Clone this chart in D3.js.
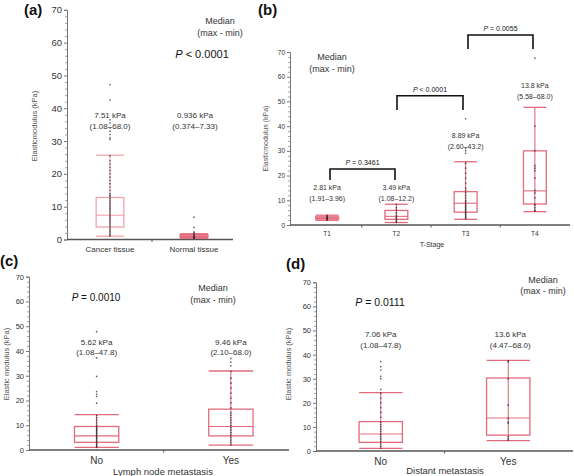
<!DOCTYPE html>
<html><head><meta charset="utf-8">
<script src="https://cdn.jsdelivr.net/npm/d3@7"></script>
<style>
html,body{margin:0;padding:0;background:#fff;}
svg{display:block;font-family:"Liberation Sans",Arial,sans-serif;}
</style></head>
<body>
<svg id="chart" width="574" height="476"></svg>
<script>
// ---------- DATA ----------
const yTicks = [0, 10, 20, 30, 40, 50, 60, 70];
const yMinorTicks = [2,4,6,8,12,14,16,18,22,24,26,28,32,34,36,38,42,44,46,48,52,54,56,58,62,64,66,68];

// (a) tissue
const catsA = ["Cancer tissue", "Normal tissue"];
// [whisker low, Q1, median, Q3, whisker high]
const boxA = [[1.0, 3.8, 7.4, 12.8, 25.7], [0.37, 0.55, 0.94, 1.5, 1.75]];
const ptsA = [
  [47.2, 42.5, 36.5, 35.5, 34, 33, 32, 31, 30.5, 25.5, 24, 23, 22, 21, 20, 19, 18, 17, 16, 15, 14, 13.5, 13, 12.5, 12, 11.5, 11, 10.5, 10, 9.5, 9, 8.5, 8, 7.5, 7, 6.5, 6, 5.5, 5, 4.5, 4, 3.5, 3, 2.5, 2, 1.5, 1.1],
  [6.8, 3.7, 2.3, 2.0, 1.6, 1.3, 1.0, 0.8, 0.6, 0.5, 0.4]
];
const labelsA = [["7.51 kPa", "(1.08\u201368.0)"], ["0.936 kPa", "(0.374\u20137.33)"]];
const pA = "< 0.0001";

// (b) T-stage
const catsB = ["T1", "T2", "T3", "T4"];
const boxB = [[1.91, 2.4, 2.8, 3.3, 3.96], [1.0, 2.3, 3.5, 5.9, 8.4], [2.3, 5.2, 8.8, 13.5, 25.6], [5.4, 8.5, 13.8, 30.0, 47.6]];
const ptsB = [
  [1.95, 2.3, 2.6, 2.8, 3.0, 3.3, 3.6, 3.9],
  [1.1, 1.5, 2.0, 2.5, 3.0, 3.5, 4.0, 5.0, 6.0, 7.0, 8.4],
  [43, 31, 30, 29, 25, 23, 21, 19, 17, 15, 14, 13, 12, 11, 10, 9.5, 9, 8.5, 8, 7.5, 7, 6.5, 6, 5.5, 5, 4.5, 4, 3.5, 3, 2.6],
  [67.5, 40, 30, 24, 23, 22, 19, 14, 13, 11, 8.5, 8, 7, 6, 5.6]
];
const labelsB = [["2.81 kPa", "(1.91\u20133.96)"], ["3.49 kPa", "(1.08\u201312.2)"], ["8.89 kPa", "(2.60\u201343.2)"], ["13.8 kPa", "(5.58\u201368.0)"]];
const pairsB = [["T1", "T2"], ["T2", "T3"], ["T3", "T4"]];
const pB = ["= 0.3461", "< 0.0001", "= 0.0055"];

// (c) lymph node metastasis
const catsC = ["No", "Yes"];
const boxC = [[1.1, 3.1, 5.7, 9.5, 14.3], [2.0, 5.7, 9.5, 16.5, 31.9]];
const ptsC = [
  [47.8, 37.2, 29.7, 23.6, 22.5, 21.6, 18.9, 14, 13, 12, 11, 10, 9.5, 9, 8.5, 8, 7.5, 7, 6.5, 6, 5.5, 5, 4.5, 4, 3.5, 3, 2.5, 2, 1.5, 1.1],
  [37, 35.5, 34, 31.8, 29, 27, 25, 23, 21, 19, 17, 15, 14, 13, 12, 11, 10, 9, 8, 7, 6, 5, 4, 3, 2.1]
];
const labelsC = [["5.62 kPa", "(1.08\u201347.8)"], ["9.46 kPa", "(2.10\u201368.0)"]];
const pC = "= 0.0010";

// (d) distant metastasis
const catsD = ["No", "Yes"];
const boxD = [[1.1, 3.6, 7.05, 12.2, 24.2], [4.3, 6.6, 13.7, 30.3, 37.6]];
const ptsD = [
  [37.1, 35, 33.6, 31, 30, 25.6, 24, 22, 20, 18, 16, 14, 12, 11, 10, 9, 8, 7, 6, 5, 4, 3, 2, 1.1],
  [37.5, 37, 30, 19, 13.5, 12, 11.5, 6, 5, 4.5]
];
const labelsD = [["7.06 kPa", "(1.08\u201347.8)"], ["13.6 kPa", "(4.47\u201368.0)"]];
const pD = "= 0.0111";

// ---------- DRAWING ----------
const svg = d3.select("#chart");
const TXT = "#333";

function panel(cfg) {
  const g = svg.append("g");
  const x = d3.scaleBand().domain(cfg.cats).range(cfg.xr);
  const y = d3.scaleLinear().domain([0, 70]).range(cfg.yr);
  const bw = x.bandwidth() * cfg.boxFrac;
  const cx = c => x(c) + x.bandwidth() / 2;

  // y axis
  const ya = g.append("g").attr("transform", `translate(${cfg.ax0},0)`)
    .call(d3.axisLeft(y).tickValues(yTicks).tickSize(3).tickPadding(2).tickFormat(d3.format("d")));
  ya.select(".domain").attr("stroke", "#777").attr("stroke-width", 1);
  ya.selectAll(".tick line").attr("stroke", "#777");
  ya.selectAll("text").attr("font-size", cfg.tickFs).attr("fill", TXT);
  const ym = g.append("g").attr("transform", `translate(${cfg.ax0},0)`)
    .call(d3.axisLeft(y).tickValues(yMinorTicks).tickSize(1.8).tickFormat(""));
  ym.select(".domain").remove();
  ym.selectAll(".tick line").attr("stroke", "#999");

  // x axis line + category labels
  g.append("line").attr("x1", cfg.ax0).attr("x2", cfg.ax1)
    .attr("y1", y(0)).attr("y2", y(0)).attr("stroke", "#555").attr("stroke-width", 1.4);
  const xa = g.append("g").attr("transform", `translate(0,${y(0)})`)
    .call(d3.axisBottom(x).tickSize(0).tickPadding(cfg.xPad));
  xa.select(".domain").remove();
  xa.selectAll("text").attr("font-size", cfg.xFs).attr("fill", TXT);
  cfg.cats.slice(1).forEach(c => {
    g.append("line").attr("x1", x(c)).attr("x2", x(c))
      .attr("y1", y(0)).attr("y2", y(0) + 2.5).attr("stroke", "#555");
  });

  // boxes
  cfg.cats.forEach((c, i) => {
    const [lo, q1, md, q3, hi] = cfg.box[i];
    const col = cfg.colors[i];
    const bg = g.append("g");
    bg.append("line").attr("x1", cx(c)).attr("x2", cx(c)).attr("y1", y(lo)).attr("y2", y(hi))
      .attr("stroke", col).attr("stroke-width", 1.1);
    [lo, hi].forEach(v => bg.append("line").attr("x1", cx(c) - bw / 2).attr("x2", cx(c) + bw / 2)
      .attr("y1", y(v)).attr("y2", y(v)).attr("stroke", col).attr("stroke-width", 1.3));
    bg.append("rect").attr("x", cx(c) - bw / 2).attr("width", bw)
      .attr("y", y(q3)).attr("height", y(q1) - y(q3))
      .attr("fill", cfg.fills[i]).attr("stroke", col).attr("stroke-width", 1.3);
    bg.append("line").attr("x1", cx(c) - bw / 2).attr("x2", cx(c) + bw / 2)
      .attr("y1", y(md)).attr("y2", y(md)).attr("stroke", col).attr("stroke-width", 1.1);
    g.selectAll(null).data(cfg.pts[i]).join("circle")
      .attr("cx", cx(c)).attr("cy", d => y(d)).attr("r", 0.85)
      .attr("fill", "#222").attr("opacity", 0.7);
    const L = cfg.labelPos[i];
    g.append("text").attr("x", cx(c) + (L.dx || 0)).attr("y", L.y1).attr("text-anchor", "middle")
      .attr("font-size", cfg.labFs).attr("fill", TXT).text(cfg.labels[i][0]);
    g.append("text").attr("x", cx(c) + (L.dx || 0)).attr("y", L.y2).attr("text-anchor", "middle")
      .attr("font-size", cfg.labFs).attr("fill", TXT).text(cfg.labels[i][1]);
  });

  g.append("text").attr("transform", `translate(${cfg.ytx},${cfg.yty}) rotate(-90)`)
    .attr("text-anchor", "middle").attr("font-size", cfg.ytFs).attr("fill", "#555").text(cfg.yTitle);
  if (cfg.xTitle) g.append("text").attr("x", cfg.xTitle.x).attr("y", cfg.xTitle.y).attr("text-anchor", "middle")
    .attr("font-size", cfg.xTitle.fs).attr("fill", TXT).text(cfg.xTitle.t);
  g.append("text").attr("x", cfg.letter.x).attr("y", cfg.letter.y).attr("font-size", 15)
    .attr("font-weight", "bold").attr("fill", "#111").text(cfg.letter.t);
  g.append("text").attr("x", cfg.med.x).attr("y", cfg.med.y).attr("text-anchor", "middle")
    .attr("font-size", cfg.med.fs).attr("fill", TXT).text("Median");
  g.append("text").attr("x", cfg.med.x).attr("y", cfg.med.y + cfg.med.dy).attr("text-anchor", "middle")
    .attr("font-size", cfg.med.fs).attr("fill", TXT).text("(max - min)");
  return {g, x, y, cx};
}

function pText(g, xp, yp, fs, val) {
  const t = g.append("text").attr("x", xp).attr("y", yp).attr("text-anchor", "middle")
    .attr("font-size", fs).attr("fill", "#111");
  t.append("tspan").attr("font-style", "italic").text("P");
  t.append("tspan").text(" " + val);
}

const pink = "#e26b7c";

// (a)
const A = panel({
  cats: catsA, box: boxA, pts: ptsA, labels: labelsA,
  xr: [68, 236], yr: [239.5, 9.8], ax0: 67, ax1: 233, boxFrac: 0.33,
  colors: ["#f2a3ad", "#e26b7c"], fills: ["none", "#ec8d99"],
  tickFs: 9.5, xFs: 8, xPad: 7, labFs: 8,
  labelPos: [{y1: 117.5, y2: 128.5}, {y1: 117.5, y2: 128.5, dx: 1}],
  ytx: 37, yty: 126, ytFs: 7.5, yTitle: "Elasticmodulus (kPa)",
  letter: {x: 24, y: 15, t: "(a)"},
  med: {x: 220, y: 24, dy: 11.5, fs: 9}
});
pText(A.g, 202, 57.5, 11, pA);

// (b)
const B = panel({
  cats: catsB, box: boxB, pts: ptsB, labels: labelsB,
  xr: [292.5, 569.5], yr: [225, 52], ax0: 290, ax1: 570, boxFrac: 0.33,
  colors: ["#e26b7c", pink, pink, pink], fills: ["#f0a3ad", "none", "none", "none"],
  tickFs: 6.5, xFs: 6.5, xPad: 6, labFs: 7,
  labelPos: [{y1: 189.5, y2: 200.5}, {y1: 189.5, y2: 200.5}, {y1: 137.5, y2: 148.5}, {y1: 87.5, y2: 98.5}],
  ytx: 268, yty: 138.5, ytFs: 7, yTitle: "Elasticmodulus (kPa)",
  letter: {x: 258, y: 15, t: "(b)"},
  xTitle: {x: 432, y: 246.5, fs: 7, t: "T-Stage"},
  med: {x: 332, y: 60, dy: 11.5, fs: 9}
});
const brY = [[169, 180], [95.7, 110], [35, 49]];
const brX = [[330, 395], [397, 463], [468, 533]];
pairsB.forEach((pr, i) => {
  const [top, leg] = brY[i];
  const x1 = brX[i][0], x2 = brX[i][1];
  B.g.append("path").attr("d", `M${x1},${leg}V${top}H${x2}V${leg}`)
    .attr("fill", "none").attr("stroke", "#111").attr("stroke-width", 1.6);
  pText(B.g, (x1 + x2) / 2, top - 4, 7, pB[i]);
});

// (c)
const C = panel({
  cats: catsC, box: boxC, pts: ptsC, labels: labelsC,
  xr: [29.5, 298], yr: [450, 276.7], ax0: 29, ax1: 289, boxFrac: 0.33,
  colors: [pink, pink], fills: ["none", "none"],
  tickFs: 7.5, xFs: 10, xPad: 7, labFs: 8,
  labelPos: [{y1: 344.5, y2: 355}, {y1: 344.5, y2: 355}],
  ytx: 9, yty: 364, ytFs: 7.5, yTitle: "Elastic modulus (kPa)",
  letter: {x: 0, y: 266, t: "(c)"},
  xTitle: {x: 163, y: 475, fs: 9.5, t: "Lymph node metastasis"},
  med: {x: 213, y: 291, dy: 12, fs: 9}
});
pText(C.g, 96, 300.5, 10, pC);

// (d)
const D = panel({
  cats: catsD, box: boxD, pts: ptsD, labels: labelsD,
  xr: [317, 572], yr: [451, 282.3], ax0: 316, ax1: 573, boxFrac: 0.34,
  colors: [pink, pink], fills: ["none", "none"],
  tickFs: 7.5, xFs: 10, xPad: 7, labFs: 8,
  labelPos: [{y1: 336.5, y2: 347.5}, {y1: 336.5, y2: 347.5, dx: 2}],
  ytx: 291, yty: 364, ytFs: 7.5, yTitle: "Elastic modulus (kPa)",
  letter: {x: 286, y: 269, t: "(d)"},
  xTitle: {x: 445, y: 474, fs: 9.5, t: "Distant metastasis"},
  med: {x: 543, y: 282.5, dy: 11, fs: 9}
});
pText(D.g, 380, 306, 10.5, pD);
</script>
</body></html>
